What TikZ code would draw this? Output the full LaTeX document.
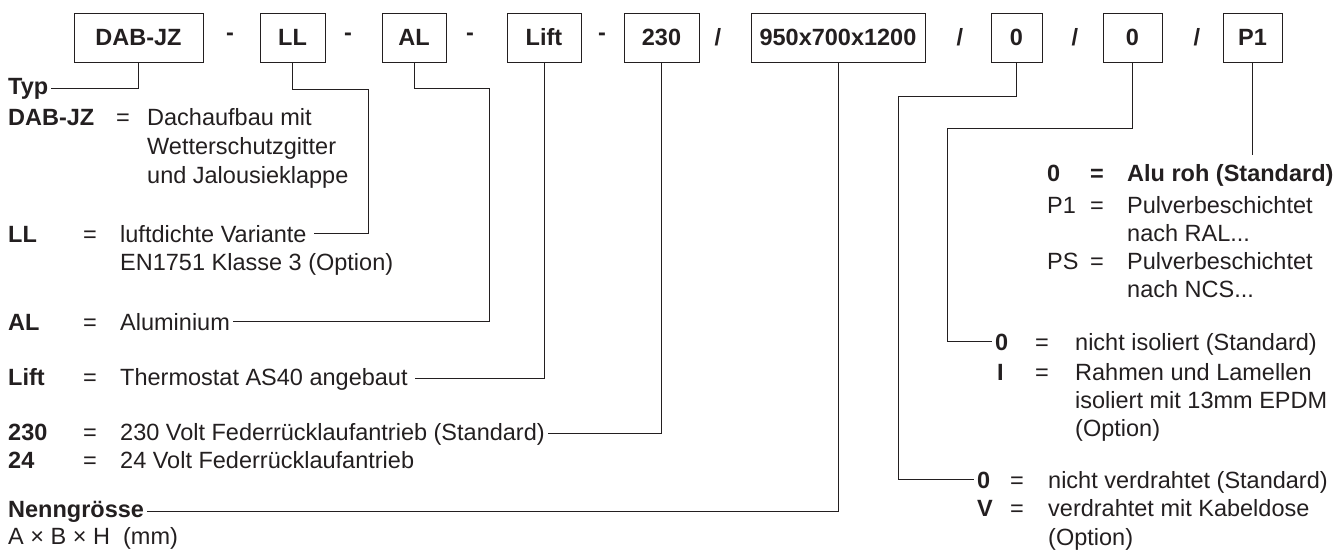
\documentclass[tikz,border=0pt]{standalone}
\usepackage{fontspec}
\setmainfont{Liberation Sans}
\definecolor{ink}{HTML}{231F20}

\begin{document}
\begin{tikzpicture}
        [
            x=1pt, y=-1pt,
            every node/.style={text=ink, font=\fontsize{23.5}{28.5}\selectfont},
            codebox/.style={draw=ink, line width=1pt, minimum height=49,
                            inner sep=0pt, font=\fontsize{23.5}{28.5}\selectfont\bfseries},
            sep/.style={font=\fontsize{23.5}{28.5}\selectfont\bfseries},
            key/.style={anchor=base west, inner xsep=3pt, inner ysep=0pt,
                        font=\fontsize{23.5}{28.5}\selectfont\bfseries},
            txt/.style={anchor=base west, inner xsep=3pt, inner ysep=0pt},
            eq/.style={anchor=base, inner sep=0pt},
            lead/.style={draw=ink, line width=0.9pt}
        ]
        \useasboundingbox (0,0) rectangle (1342,550);
        % code boxes
        \foreach \nm/\lbl/\cx/\w in {bdab/DAB-JZ/138.5/129, bll/LL/292.5/65,
                bal/AL/414/64, blift/Lift/544/74, bvolt/230/661.5/75,
                bsize/950x700x1200/838/174, bwire/0/1016.5/51,
                biso/0/1132.5/59, bcol/P1/1252.5/59}
            \node (\nm) [codebox, minimum width=\w] at (\cx,37.5) {\lbl};
        \foreach \x in {230,348,470,602}
            \node (dash\x) [sep] at (\x,37) {-};
        \foreach \x in {718,960,1075,1197}
            \node (slash\x) [sep] at (\x,37) {/};

        % left legend
        \node (typ) [key] at (5,94) {Typ};
        \node (kdab) [key] at (5,125) {DAB-JZ};
        \node (edab) [eq] at (123,125) {=};
        \node (tdab1) [txt] at (144,125) {Dachaufbau mit};
        \node (tdab2) [txt] at (144,154) {Wetterschutzgitter};
        \node (tdab3) [txt] at (144,183) {und Jalousieklappe};
        \node (kll) [key] at (5,242) {LL};
        \node (ell) [eq] at (90,242) {=};
        \node (tll1) [txt] at (117,242) {luftdichte Variante\,};
        \node (tll2) [txt] at (117,270) {EN1751 Klasse 3 (Option)};
        \node (kal) [key] at (5,330) {AL};
        \node (eal) [eq] at (90,330) {=};
        \node (tal) [txt] at (117,330) {Aluminium};
        \node (klift) [key] at (5,385) {Lift};
        \node (elift) [eq] at (90,385) {=};
        \node (tlift) [txt] at (117,385) {Thermostat AS40 angebaut\,};
        \node (kv230) [key] at (5,440) {230};
        \node (ev230) [eq] at (90,440) {=};
        \node (tv230) [txt] at (117,440) {230 Volt Federrücklaufantrieb (Standard)};
        \node (kv24) [key] at (5,468) {24};
        \node (ev24) [eq] at (90,468) {=};
        \node (tv24) [txt] at (117,468) {24 Volt Federrücklaufantrieb};
        \node (nenn) [key] at (5,517) {Nenngrösse};
        \node (dims) [txt] at (5,544) {A × B × H\ \ (mm)};

        % right legend
        \node (kc0) [key] at (1044,181) {0};
        \node (ec0) [eq, font=\fontsize{23.5}{28.5}\selectfont\bfseries] at (1097,181) {=};
        \node (tc0) [key] at (1124,181) {Alu roh (Standard)};
        \node (kcp1) [txt] at (1044,213) {P1};
        \node (ecp1) [eq] at (1097,213) {=};
        \node (tcp1a) [txt] at (1124,213) {Pulverbeschichtet};
        \node (tcp1b) [txt] at (1124,241) {nach RAL...};
        \node (kcps) [txt] at (1044,269) {PS};
        \node (ecps) [eq] at (1097,269) {=};
        \node (tcpsa) [txt] at (1124,269) {Pulverbeschichtet};
        \node (tcpsb) [txt] at (1124,297) {nach NCS...};
        \node (ki0) [key] at (992,350) {0};
        \node (ei0) [eq] at (1042,350) {=};
        \node (ti0) [txt] at (1072,350) {nicht isoliert (Standard)};
        \node (kii) [key] at (994,380) {I};
        \node (eii) [eq] at (1042,380) {=};
        \node (tii1) [txt] at (1072,380) {Rahmen und Lamellen};
        \node (tii2) [txt] at (1072,408) {isoliert mit 13mm EPDM};
        \node (tii3) [txt] at (1072,436) {(Option)};
        \node (kw0) [key] at (974,488) {0};
        \node (ew0) [eq] at (1017,488) {=};
        \node (tw0) [txt] at (1045,488) {nicht verdrahtet (Standard)};
        \node (kwv) [key] at (974,516) {V};
        \node (ewv) [eq] at (1017,516) {=};
        \node (twv1) [txt] at (1045,516) {verdrahtet mit Kabeldose};
        \node (twv2) [txt] at (1045,545) {(Option)};

        % leader lines
        \coordinate (colend) at (1252.5,155);
        \draw [lead] (bdab.south) |- (typ.east);
        \draw [lead] (bll.south) |- (368,89) |- (tll1.east);
        \draw [lead] (bal.south) |- (489,88) |- (tal.east);
        \draw [lead] (blift.south) |- (tlift.east);
        \draw [lead] (bvolt.south) |- (tv230.east);
        \draw [lead] (bsize.south) |- (nenn.east);
        \draw [lead] (bwire.south) |- (898,96) |- (kw0.west);
        \draw [lead] (biso.south) |- (947,128) |- (ki0.west);
        \draw [lead] (bcol.south) -- (colend);
    \end{tikzpicture}
\end{document}
